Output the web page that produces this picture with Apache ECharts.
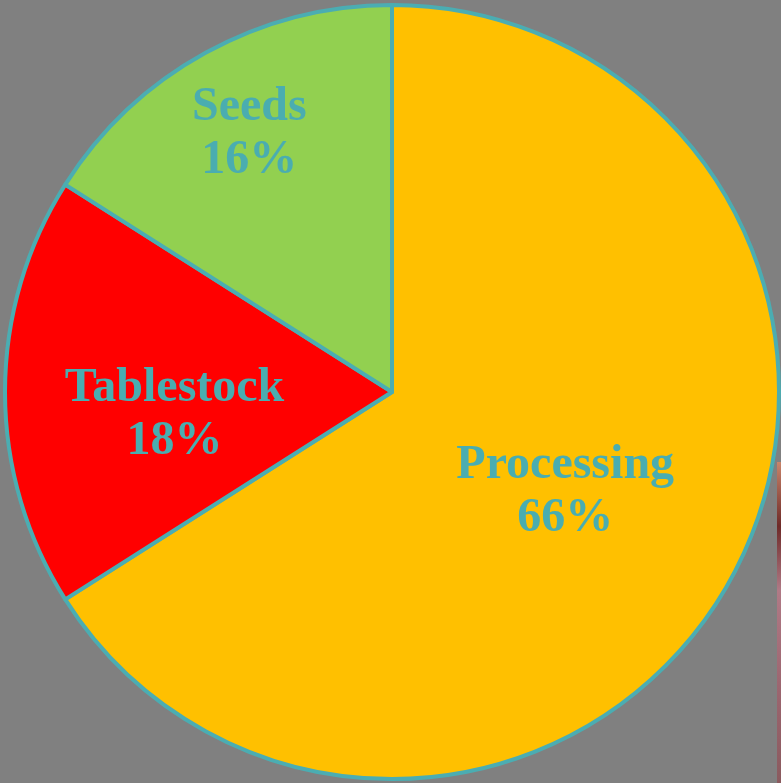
<!DOCTYPE html>
<html>
<head>
<meta charset="utf-8">
<script src="https://cdn.jsdelivr.net/npm/echarts@6/dist/echarts.min.js"></script>
<style>
  html, body { margin: 0; padding: 0; background: #808080; }
  #chart { width: 781px; height: 783px; }
</style>
</head>
<body>
<div id="chart"></div>
<script>
// Share of production by market use
const categories = ['Processing', 'Tablestock', 'Seeds'];
const shares = [66, 18, 16];
const sliceColors = ['#FFC000', '#FF0000', '#92D050'];
// nudges applied to each label away from its default inside spot
const labelShift = [[1, 5], [-21, 23], [-48, -86]];

const chart = echarts.init(document.getElementById('chart'), null, { renderer: 'canvas' });

chart.setOption({
  backgroundColor: '#808080',
  animation: false,
  graphic: [{
    type: 'rect',
    right: 0,
    top: 462,
    shape: { width: 4, height: 321 },
    style: {
      fill: {
        type: 'linear', x: 0, y: 0, x2: 0, y2: 1,
        colorStops: [
          { offset: 0, color: '#c9846a' },
          { offset: 0.2, color: '#6e2a28' },
          { offset: 0.4, color: '#b07a86' },
          { offset: 0.7, color: '#9c6670' },
          { offset: 1, color: '#8a5a5e' }
        ]
      }
    },
    silent: true
  }],
  series: [{
    type: 'pie',
    center: [392, 392],
    radius: [0, 387],
    startAngle: 90,
    clockwise: true,
    silent: true,
    data: categories.map((name, i) => ({
      name: name,
      value: shares[i],
      itemStyle: { color: sliceColors[i] }
    })),
    itemStyle: { borderColor: '#4BADB2', borderWidth: 4 },
    label: {
      show: true,
      position: 'inside',
      formatter: '{b}\n{d}%',
      color: '#4AADB0',
      fontFamily: '"Liberation Serif", "Times New Roman", serif',
      fontWeight: 'bold',
      fontSize: 48,
      lineHeight: 53,
      align: 'center'
    },
    labelLine: { show: false },
    labelLayout: function (params) {
      const s = labelShift[params.dataIndex];
      return { dx: s[0], dy: s[1] };
    }
  }]
});
</script>
</body>
</html>
